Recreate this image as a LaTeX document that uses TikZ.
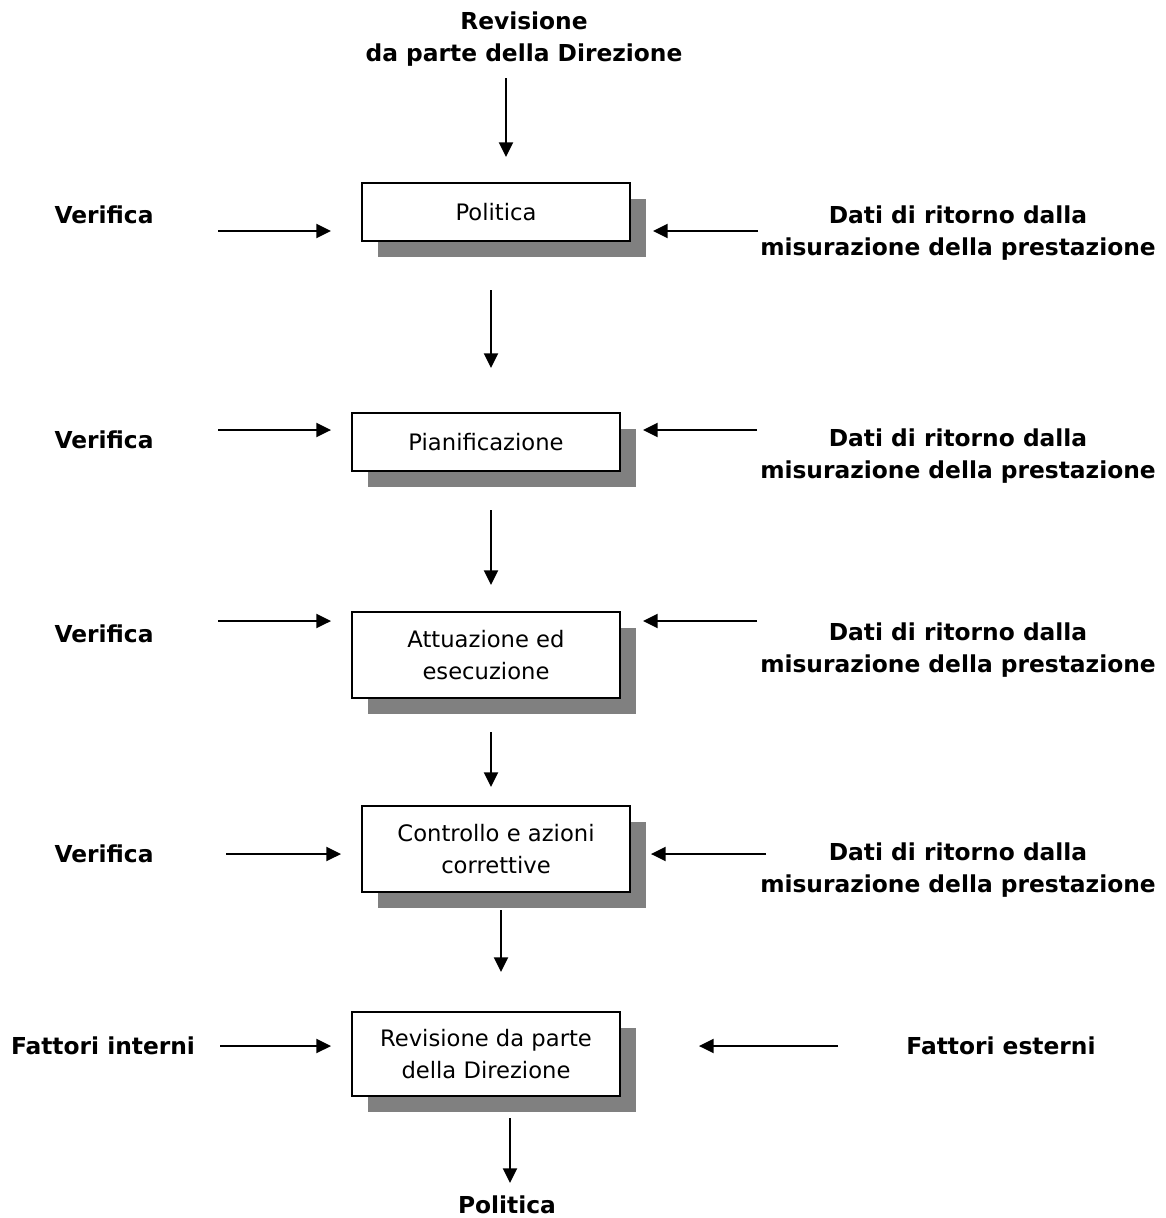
\documentclass[tikz,border=0pt]{standalone}
\usepackage{fontspec}
\setmainfont{DejaVu Sans}
\usetikzlibrary{arrows.meta, positioning, shadows}

\begin{document}
\begin{tikzpicture}[
    x=0.75pt, y=-0.75pt,
    every node/.style={font=\fontsize{17}{24}\selectfont},
    stage/.style={draw,line width=1.4pt,fill=white,minimum width=201pt,
                  align=center,inner sep=2pt,
                  general shadow={shadow xshift=12pt,shadow yshift=-12pt,
                                  fill=black!50,draw=none}},
    lbl/.style={font=\fontsize{17.5}{24}\selectfont\bfseries,align=center,
                inner sep=1pt},
    arr/.style={-{Triangle[length=11pt,width=10.5pt]},line width=1.5pt}
]
\useasboundingbox (0,0) rectangle (1166,1218);

% stages
\node[stage,minimum height=43.5pt] (pol)  at (496,212)  {Politica};
\node[stage,minimum height=43.5pt] (pian) at (486,442)  {Pianificazione};
\node[stage,minimum height=64pt]   (att)  at (486,655)  {Attuazione ed\\esecuzione};
\node[stage,minimum height=65pt]   (ctrl) at (496,849)  {Controllo e azioni\\correttive};
\node[stage,minimum height=63pt]   (rev)  at (486,1054) {Revisione da parte\\della Direzione};

% labels
\node[lbl] (rtop) at (524,39)   {Revisione\\da parte della Direzione};
\node[lbl] (pfin) at (507,1205) {Politica};
\node[lbl] (ver1) at (104,215)  {Verifica};
\node[lbl] (ver2) at (104,440)  {Verifica};
\node[lbl] (ver3) at (104,634)  {Verifica};
\node[lbl] (ver4) at (104,854)  {Verifica};
\node[lbl] (fint) at (103,1046) {Fattori interni};
\node[lbl] (dat1) at (958,233)  {Dati di ritorno dalla\\misurazione della prestazione};
\node[lbl] (dat2) at (958,456)  {Dati di ritorno dalla\\misurazione della prestazione};
\node[lbl] (dat3) at (958,650)  {Dati di ritorno dalla\\misurazione della prestazione};
\node[lbl] (dat4) at (958,870)  {Dati di ritorno dalla\\misurazione della prestazione};
\node[lbl] (fest) at (1001,1046) {Fattori esterni};

% arrow ends
\coordinate (v1) at (218,231);  \coordinate (d1) at (758,231);
\coordinate (v2) at (218,430);  \coordinate (d2) at (757,430);
\coordinate (v3) at (218,621);  \coordinate (d3) at (757,621);
\coordinate (v4) at (226,854);  \coordinate (d4) at (766,854);
\coordinate (v5) at (220,1046); \coordinate (d5) at (838,1046);
\coordinate (b1) at (510,1183);

\draw[arr] (506,78) coordinate (t0) -- ([yshift=18.75pt]t0 |- pol.north);
\draw[arr] (v1) -- ([xshift=-22.5pt]v1 -| pol.west);
\draw[arr] (d1) -- ([xshift=16.5pt]d1 -| pol.east);
\draw[arr] (v2) -- ([xshift=-15pt]v2 -| pian.west);
\draw[arr] (d2) -- ([xshift=16.5pt]d2 -| pian.east);
\draw[arr] (v3) -- ([xshift=-15pt]v3 -| att.west);
\draw[arr] (d3) -- ([xshift=16.5pt]d3 -| att.east);
\draw[arr] (v4) -- ([xshift=-15pt]v4 -| ctrl.west);
\draw[arr] (d4) -- ([xshift=15pt]d4 -| ctrl.east);
\draw[arr] (v5) -- ([xshift=-15pt]v5 -| rev.west);
\draw[arr] (d5) -- ([xshift=58.5pt]d5 -| rev.east);

\draw[arr] (491,290) -- (491,368);
\draw[arr] (491,510) -- (491,585);
\draw[arr] (491,732) -- (491,787);
\draw[arr] (501,910) -- (501,972);
\draw[arr] (510,1118) -- (b1);
\end{tikzpicture}
\end{document}
